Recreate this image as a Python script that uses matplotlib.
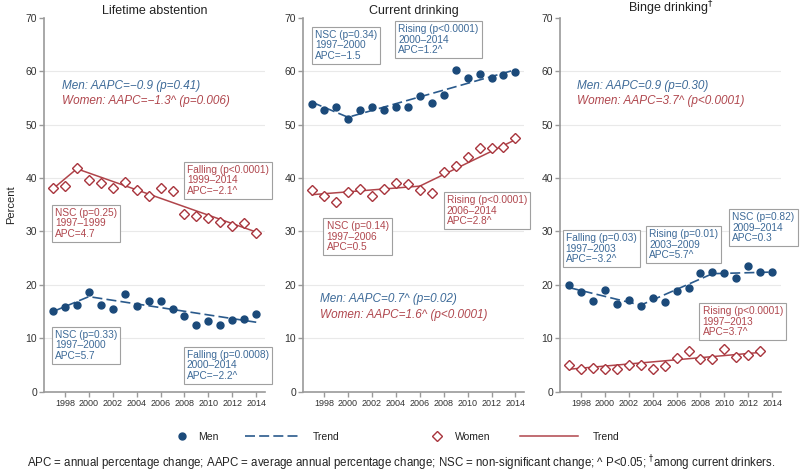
import matplotlib.pyplot as plt
from matplotlib.lines import Line2D

plt.rcParams['font.family'] = ['Liberation Sans', 'DejaVu Sans']

# survey years
years = list(range(1997, 2015))
years_binge_w = list(range(1997, 2014))

# observed percentages
abst_men = [15.1, 15.8, 16.2, 18.75, 16.3, 15.4, 18.3, 16.0, 16.9, 17.0,
            15.4, 14.1, 12.5, 13.3, 12.5, 13.5, 13.6, 14.5]
abst_women = [38.2, 38.6, 41.9, 39.7, 39.0, 38.1, 39.3, 37.7, 36.7, 38.2,
              37.6, 33.2, 32.9, 32.6, 31.7, 31.0, 31.5, 29.75]
drink_men = [53.9, 52.75, 53.25, 51.1, 52.7, 53.4, 52.8, 53.3, 53.25, 55.3,
             54.0, 55.6, 60.25, 58.7, 59.5, 58.7, 59.4, 59.9]
drink_women = [37.75, 36.6, 35.6, 37.4, 38.0, 36.7, 37.9, 39.1, 38.9, 37.7,
               37.2, 41.1, 42.25, 44.0, 45.6, 45.6, 45.9, 47.5]
binge_men = [19.9, 18.75, 16.9, 19.0, 16.5, 17.1, 16.0, 17.6, 16.75, 18.8,
             19.5, 22.2, 22.4, 22.2, 21.25, 23.6, 22.5, 22.5]
binge_women = [5.0, 4.25, 4.4, 4.25, 4.2, 4.9, 5.05, 4.25, 4.8, 6.35,
               7.55, 6.1, 6.05, 8.0, 6.55, 6.9, 7.6]

# joinpoint trend lines (years, fitted values)
abst_men_tr = ([1997, 2000, 2014], [15.0, 17.8, 13.0])
abst_women_tr = ([1997, 1999, 2014], [38.0, 41.75, 29.9])
drink_men_tr = ([1997, 2000, 2014], [54.2, 51.4, 60.3])
drink_women_tr = ([1997, 2006, 2014], [36.9, 38.5, 47.2])
binge_men_tr = ([1997, 2003, 2009, 2014], [19.5, 16.2, 22.1, 22.4])
binge_women_tr = ([1997, 2013], [4.2, 7.35])

titles = ['Lifetime abstention', 'Current drinking', r'Binge drinking$^{\dagger}$']

men_col = '#1b4a7a'
men_txt = '#3d6a98'
wom_col = '#a8343c'
wom_txt = '#b0474e'
axis_col = '#9a9a9a'

panels = [
    dict(men=(years, abst_men), wom=(years, abst_women),
         mtr=abst_men_tr, wtr=abst_women_tr,
         aapc=(1997.75, 57.3, 'Men: AAPC=\u22120.9 (p=0.41)',
               'Women: AAPC=\u22121.3^ (p=0.006)'),
         boxes=[(2008.2, 42.5, 'Falling (p<0.0001)\n1999\u20132014\nAPC=\u22122.1^', wom_txt),
                (1997.16, 34.4, 'NSC (p=0.25)\n1997\u20131999\nAPC=4.7', wom_txt),
                (1997.16, 11.6, 'NSC (p=0.33)\n1997\u20132000\nAPC=5.7', men_txt),
                (2008.2, 7.8, 'Falling (p=0.0008)\n2000\u20132014\nAPC=\u22122.2^', men_txt)]),
    dict(men=(years, drink_men), wom=(years, drink_women),
         mtr=drink_men_tr, wtr=drink_women_tr,
         aapc=(1997.66, 17.3, 'Men: AAPC=0.7^ (p=0.02)',
               'Women: AAPC=1.6^ (p<0.0001)'),
         boxes=[(1997.22, 67.8, 'NSC (p=0.34)\n1997\u20132000\nAPC=\u22121.5', men_txt),
                (2004.2, 68.8, 'Rising (p<0.0001)\n2000\u20132014\nAPC=1.2^', men_txt),
                (2008.25, 36.8, 'Rising (p<0.0001)\n2006\u20132014\nAPC=2.8^', wom_txt),
                (1998.2, 31.9, 'NSC (p=0.14)\n1997\u20132006\nAPC=0.5', wom_txt)]),
    dict(men=(years, binge_men), wom=(years_binge_w, binge_women),
         mtr=binge_men_tr, wtr=binge_women_tr,
         aapc=(1997.7, 57.3, 'Men: AAPC=0.9 (p=0.30)',
               'Women: AAPC=3.7^ (p<0.0001)'),
         boxes=[(1996.73, 29.7, 'Falling (p=0.03)\n1997\u20132003\nAPC=\u22123.2^', men_txt),
                (2003.72, 30.4, 'Rising (p=0.01)\n2003\u20132009\nAPC=5.7^', men_txt),
                (2010.67, 33.6, 'NSC (p=0.82)\n2009\u20132014\nAPC=0.3', men_txt),
                (2008.17, 16.0, 'Rising (p<0.0001)\n1997\u20132013\nAPC=3.7^', wom_txt)]),
]

fig = plt.figure(figsize=(8, 4.73), dpi=100)
lefts = [0.055, 0.379, 0.70]

for i, p in enumerate(panels):
    ax = fig.add_axes([lefts[i], 0.172, 0.2765, 0.79])
    for g in range(10, 70, 10):
        ax.axhline(g, color='#e9e9e9', lw=0.8, zorder=0)
    ax.plot(*p['mtr'], color='#2a5a8c', lw=1.2, dashes=(6, 2.5), zorder=2)
    ax.plot(*p['men'], 'o', ms=5, color=men_col, zorder=3)
    ax.plot(*p['wtr'], color='#b0454b', lw=1.1, zorder=2)
    ax.plot(*p['wom'], 'D', ms=5, mfc='white', mec=wom_col, mew=1.0, zorder=3)

    ax.set_xlim(1996.25, 2014.75)
    ax.set_ylim(0, 70)
    ax.set_xticks(range(1998, 2015, 2))
    ax.set_yticks(range(0, 71, 10))
    for s in ['top', 'right']:
        ax.spines[s].set_visible(False)
    for s in ['left', 'bottom']:
        ax.spines[s].set_color(axis_col)
        ax.spines[s].set_linewidth(1.2)
    ax.tick_params(colors=axis_col, labelcolor='#333333', length=3.5, width=1, pad=1.5)
    ax.tick_params(axis='x', labelsize=6.5)
    ax.tick_params(axis='y', labelsize=7.5)
    ax.set_title(titles[i], fontsize=9, pad=3, color='#222222')

    x0, y0, mtxt, wtxt = p['aapc']
    ax.text(x0, y0, mtxt, color=men_txt, style='italic', fontsize=8.5, va='center')
    ax.text(x0, y0 - 2.9, wtxt, color=wom_txt, style='italic', fontsize=8.5, va='center')

    for bx, by, txt, c in p['boxes']:
        ax.text(bx, by, txt, color=c, fontsize=7.3, va='top', ha='left', linespacing=1.05,
                bbox=dict(boxstyle='square,pad=0.3', fc='white', ec='#a0a0a0', lw=0.8),
                zorder=4)

    if i == 0:
        ax.set_ylabel('Percent', fontsize=8, color='#222222')
        ax.yaxis.set_label_coords(-0.125, 0.5)

# legend keys, one small legend per entry
keys = [
    (Line2D([], [], ls='none', marker='o', ms=5, color=men_col), 'Men', 177, 1.0, 1.0),
    (Line2D([], [], color='#2a5a8c', lw=1.2, dashes=(6, 2.5)), 'Trend', 245, 5.1, 1.4),
    (Line2D([], [], ls='none', marker='D', ms=5, mfc='white', mec=wom_col, mew=1.0),
     'Women', 432, 1.0, 1.25),
    (Line2D([], [], color='#b0454b', lw=1.1), 'Trend', 520, 5.6, 1.4),
]
for h, lab, xl, hl, tp in keys:
    lg = fig.legend([h], [lab], loc='center left', bbox_to_anchor=(xl / 800, 1 - 437 / 473),
                    frameon=False, fontsize=7.5, handlelength=hl, handletextpad=tp,
                    borderpad=0, borderaxespad=0)
    for t in lg.get_texts():
        t.set_color('#222222')

fig.text(0.501, 1 - 463 / 473,
         'APC = annual percentage change; AAPC = average annual percentage change; '
         'NSC = non-significant change; ^ P<0.05; $^{\\dagger}$among current drinkers.',
         ha='center', va='center', fontsize=8.3, color='#222222')

fig.savefig('out.png', dpi=100)
